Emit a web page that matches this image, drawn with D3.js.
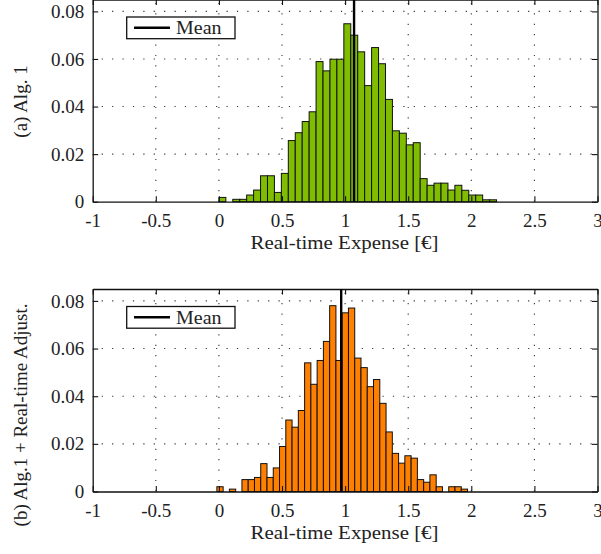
<!DOCTYPE html>
<html>
<head>
<meta charset="utf-8">
<script src="https://cdn.jsdelivr.net/npm/d3@7"></script>
<style>
  html, body { margin: 0; padding: 0; background: #fff; }
  svg { display: block; }
  text { font-family: "Liberation Serif", "Times New Roman", serif; fill: #222; }
</style>
</head>
<body>
<svg id="chart" width="601" height="554"></svg>
<script>
// ---- data ----
// Panel (a): Alg. 1 — histogram 40 bins over [0, 2.2]
const binsA = { start: 0, end: 2.2, count: 40 };
const valuesA = [
  0.0018, 0, 0.001, 0.001, 0.0028, 0.0049, 0.0109, 0.0109, 0.0039, 0.0119,
  0.0257, 0.029, 0.0337, 0.0378, 0.0589, 0.055, 0.0599, 0.0599, 0.0748, 0.070,
  0.063, 0.0488, 0.0648, 0.058, 0.043, 0.0298, 0.0288, 0.0239, 0.0248, 0.0097,
  0.0069, 0.0078, 0.0078, 0.0049, 0.0069, 0.0048, 0.0028, 0.0028, 0.0008, 0.0008
];
const meanA = 1.071;

// Panel (b): Alg.1 + Real-time Adjust. — histogram 40 bins over [-0.016, 1.970]
const binsB = { start: -0.016, end: 1.970, count: 40 };
const valuesB = [
  0.002, 0, 0.001, 0, 0.005, 0.005, 0.0059, 0.0117, 0.0059, 0.0099,
  0.0189, 0.030, 0.027, 0.034, 0.054, 0.045, 0.055, 0.063, 0.078, 0.055,
  0.075, 0.077, 0.056, 0.052, 0.044, 0.047, 0.037, 0.025, 0.016, 0.0119,
  0.015, 0.014, 0.005, 0.0039, 0.007, 0.002, 0, 0.002, 0.002, 0.001
];
const meanB = 0.969;

const xTicks = [-1, -0.5, 0, 0.5, 1, 1.5, 2, 2.5, 3];
const xTickLabels = ["-1", "-0.5", "0", "0.5", "1", "1.5", "2", "2.5", "3"];
const yTicks = [0, 0.02, 0.04, 0.06, 0.08];
const yTickLabels = ["0", "0.02", "0.04", "0.06", "0.08"];
const xLabel = "Real-time Expense [€]";
const legendLabel = "Mean";

// ---- layout ----
const svg = d3.select("#chart");
const left = 92.7, right = 597.5;
const FS = 19;

const panels = [
  { bins: binsA, values: valuesA, mean: meanA, color: "#80bd00", top: -0.5, bottom: 201.7,
    ylabel: "(a) Alg. 1", ylabelY: 101.5 },
  { bins: binsB, values: valuesB, mean: meanB, color: "#ff8000", top: 289, bottom: 491.5,
    ylabel: "(b) Alg.1 + Real-time Adjust.", ylabelY: 415 }
];

panels.forEach(p => {
  const x = d3.scaleLinear().domain([-1, 3]).range([left, right]);
  const y = d3.scaleLinear().domain([0, 0.085]).range([p.bottom, p.top]);
  const g = svg.append("g");

  const w = (p.bins.end - p.bins.start) / p.bins.count;
  const data = p.values.map((v, i) => ({ x0: p.bins.start + i * w, x1: p.bins.start + (i + 1) * w, v }));

  // grid
  const grid = g.append("g");
  grid.selectAll("line.gx").data(xTicks.slice(1, -1)).join("line")
    .attr("x1", d => x(d)).attr("x2", d => x(d))
    .attr("y1", p.bottom).attr("y2", p.top)
    .attr("stroke", "#333").attr("stroke-width", 1.1).attr("stroke-dasharray", "1.2,9.2");
  grid.selectAll("line.gy").data(yTicks.slice(1)).join("line")
    .attr("x1", left).attr("x2", right)
    .attr("y1", d => y(d)).attr("y2", d => y(d))
    .attr("stroke", "#333").attr("stroke-width", 1.1).attr("stroke-dasharray", "1.2,9.2")
    .attr("stroke-dashoffset", -9);

  // bars
  g.append("g").selectAll("rect").data(data.filter(d => d.v > 0)).join("rect")
    .attr("x", d => x(d.x0)).attr("width", d => x(d.x1) - x(d.x0))
    .attr("y", d => y(d.v)).attr("height", d => y(0) - y(d.v))
    .attr("fill", p.color).attr("stroke", "#111").attr("stroke-width", 1);

  // axes (D3 axes, ticks inside)
  const axB = g.append("g").attr("transform", `translate(0,${p.bottom})`)
    .call(d3.axisBottom(x).tickValues(xTicks).tickFormat((d, i) => xTickLabels[i]).tickSizeInner(-5.5).tickSizeOuter(0).tickPadding(10));
  const axT = g.append("g").attr("transform", `translate(0,${p.top})`)
    .call(d3.axisTop(x).tickValues(xTicks).tickFormat("").tickSizeInner(-5.5).tickSizeOuter(0));
  const axL = g.append("g").attr("transform", `translate(${left},0)`)
    .call(d3.axisLeft(y).tickValues(yTicks).tickFormat((d, i) => yTickLabels[i]).tickSizeInner(-5.5).tickSizeOuter(0).tickPadding(14));
  const axR = g.append("g").attr("transform", `translate(${right},0)`)
    .call(d3.axisRight(y).tickValues(yTicks).tickFormat("").tickSizeInner(-5.5).tickSizeOuter(0));
  [axB, axT, axL, axR].forEach(a => {
    a.select(".domain").attr("stroke", "#111").attr("stroke-width", 1.3);
    a.selectAll(".tick line").attr("stroke", "#111").attr("stroke-width", 1.1);
    a.selectAll("text").attr("font-family", "Liberation Serif").attr("font-size", FS).attr("fill", "#222");
  });
  axB.selectAll("text").attr("dy", "0.71em").attr("y", 12);
  axL.selectAll("text").attr("x", -8.5);

  // mean line
  g.append("line").attr("x1", x(p.mean)).attr("x2", x(p.mean))
    .attr("y1", p.top).attr("y2", p.bottom)
    .attr("stroke", "#000").attr("stroke-width", 2.4);

  // x label
  g.append("text").attr("x", 344.5).attr("y", p.bottom + 47)
    .attr("text-anchor", "middle").attr("font-size", FS)
    .attr("textLength", 188).attr("lengthAdjust", "spacingAndGlyphs")
    .text(xLabel);

  // y label
  g.append("text").attr("transform", `translate(27,${p.ylabelY}) rotate(-90)`)
    .attr("text-anchor", "middle").attr("font-size", FS)
    .text(p.ylabel);

  // legend
  const ly = p.top + 17.5;
  const lg = g.append("g");
  lg.append("rect").attr("x", 126.7).attr("y", ly).attr("width", 108.3).attr("height", 21.7)
    .attr("fill", "#fff").attr("stroke", "#111").attr("stroke-width", 1.3);
  lg.append("line").attr("x1", 134).attr("x2", 170).attr("y1", ly + 10.8).attr("y2", ly + 10.8)
    .attr("stroke", "#000").attr("stroke-width", 2.4);
  lg.append("text").attr("x", 176).attr("y", ly + 17).attr("font-size", FS)
    .attr("textLength", 45.5).attr("lengthAdjust", "spacingAndGlyphs")
    .text(legendLabel);
});
</script>
</body>
</html>
